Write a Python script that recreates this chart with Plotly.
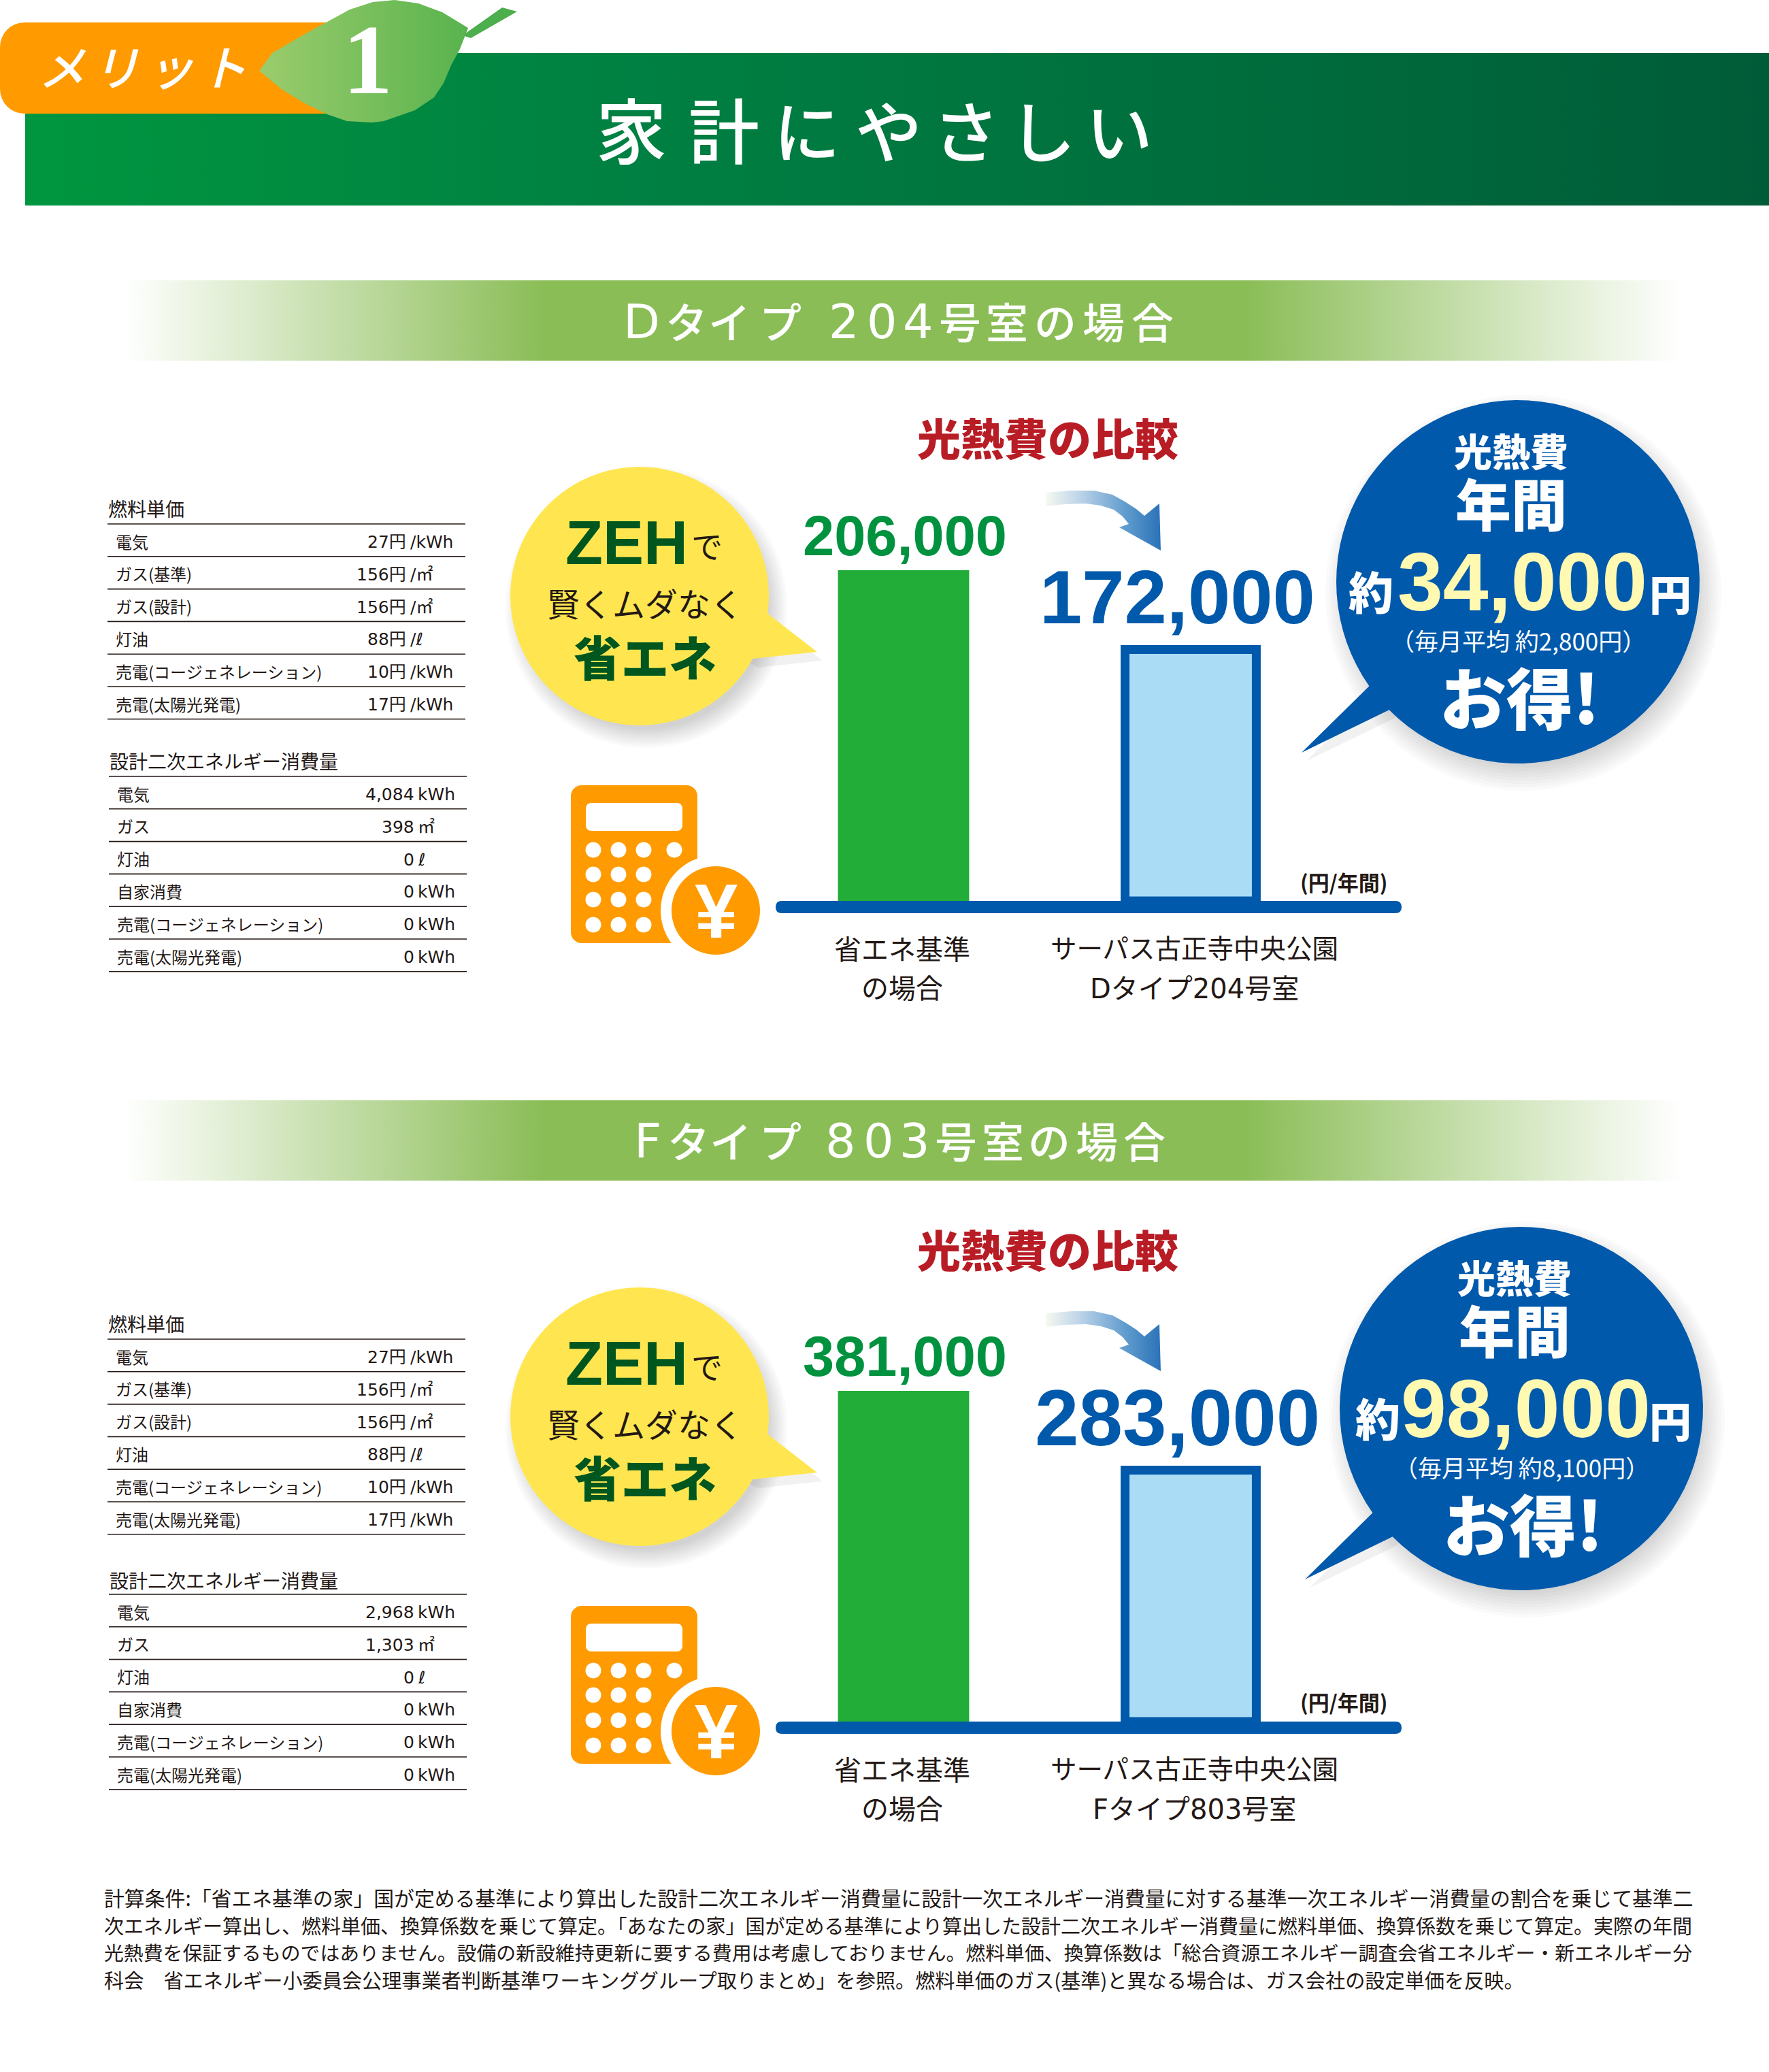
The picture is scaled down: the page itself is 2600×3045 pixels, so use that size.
import math
import plotly.graph_objects as go

# --- chart values ---
bar_categories = ["省エネ基準の場合", "サーパス古正寺中央公園"]
# printed amounts (yen per year)
cost_d = ["206,000", "172,000"]
cost_f = ["381,000", "283,000"]
# the bars in the picture are schematic, not to scale with the printed amounts:
# these are their drawn lengths, first bar = 100
bar_length_d = [100, 76]
bar_length_f = [100, 76]

saving_d = "34,000"
saving_f = "98,000"
monthly_d = "（毎月平均 約2,800円）"
monthly_f = "（毎月平均 約8,100円）"

fuel_labels = ["電気", "ガス(基準)", "ガス(設計)", "灯油", "売電(コージェネレーション)", "売電(太陽光発電)"]
fuel_prices = ["27円", "156円", "156円", "88円", "10円", "17円"]
fuel_units = ["/kWh", "/㎡", "/㎡", "/ℓ", "/kWh", "/kWh"]

energy_labels = ["電気", "ガス", "灯油", "自家消費", "売電(コージェネレーション)", "売電(太陽光発電)"]
energy_d = ["4,084", "398", "0", "0", "0", "0"]
energy_f = ["2,968", "1,303", "0", "0", "0", "0"]
energy_units = ["kWh", "㎡", "ℓ", "kWh", "kWh", "kWh"]

footnote = [
    "計算条件:「省エネ基準の家」国が定める基準により算出した設計二次エネルギー消費量に設計一次エネルギー消費量に対する基準一次エネルギー消費量の割合を乗じて基準二",
    "次エネルギー算出し、燃料単価、換算係数を乗じて算定。「あなたの家」国が定める基準により算出した設計二次エネルギー消費量に燃料単価、換算係数を乗じて算定。実際の年間",
    "光熱費を保証するものではありません。設備の新設維持更新に要する費用は考慮しておりません。燃料単価、換算係数は「総合資源エネルギー調査会省エネルギー・新エネルギー分",
    "科会　省エネルギー小委員会公理事業者判断基準ワーキンググループ取りまとめ」を参照。燃料単価のガス(基準)と異なる場合は、ガス会社の設定単価を反映。",
]

W, H = 2600, 3045
JP = "Noto Sans CJK JP"
LATIN_JP = "DejaVu Sans, Noto Sans CJK JP"
ARIAL = "Liberation Sans"
DARK = "#231815"
BLUE = "#0059ab"
ORANGE = "#ff9a00"
DEEP_GREEN = "#00561f"

fig = go.Figure()
annotations = []
shapes = []


def txt(x, y, text, size, color=DARK, family=JP, weight=400, anchor="center", style="normal"):
    # the CJK line box sits a little low, pull it back up
    if family == JP:
        y -= 0.07 * size
    annotations.append(dict(
        x=x, y=y, xref="x", yref="y", text=text, showarrow=False,
        xanchor=anchor, yanchor="middle", borderpad=0, borderwidth=0,
        font=dict(size=size, color=color, family=family, weight=weight, style=style),
    ))


def poly(points, color=None, gradient=None):
    xs = [p[0] for p in points] + [points[0][0]]
    ys = [p[1] for p in points] + [points[0][1]]
    kw = {"fillgradient": gradient} if gradient else {"fillcolor": color}
    fig.add_trace(go.Scatter(x=xs, y=ys, mode="none", fill="toself", hoverinfo="skip",
                             showlegend=False, xaxis="x", yaxis="y", **kw))


def ellipse(cx, cy, rx, ry=None, start=0.0, stop=360.0, n=72):
    ry = rx if ry is None else ry
    return [(cx + rx * math.cos(math.radians(start + (stop - start) * i / n)),
             cy + ry * math.sin(math.radians(start + (stop - start) * i / n))) for i in range(n + 1)]


def round_rect(x0, y0, x1, y1, r):
    pts = []
    pts += ellipse(x1 - r, y0 + r, r, start=-90, stop=0, n=8)
    pts += ellipse(x1 - r, y1 - r, r, start=0, stop=90, n=8)
    pts += ellipse(x0 + r, y1 - r, r, start=90, stop=180, n=8)
    pts += ellipse(x0 + r, y0 + r, r, start=180, stop=270, n=8)
    return pts


def bubble(cx, cy, r, base_a, tip, base_b, color, shadow):
    # circle with a tail, the tail's base points given as angles in degrees
    arc = ellipse(cx, cy, r, start=base_b, stop=base_a + 360 if base_a < base_b else base_a, n=90)
    for i in range(9):
        poly(ellipse(cx + shadow[0], cy + shadow[1], r * (1.09 - i * 0.018)), color="rgba(60,60,60,0.022)")
    tail = [tip, arc[0], (cx, cy), arc[-1]]
    poly([(x + shadow[0] * 0.8, y + shadow[1] * 0.8) for x, y in tail], color="rgba(60,60,60,0.07)")
    poly([tip] + arc, color=color)


# --- header ---
poly([(37, 78), (W, 78), (W, 302), (37, 302)],
     gradient=dict(type="horizontal", colorscale=[[0, "#00963f"], [0.35, "#008042"], [1, "#005c38"]]))
poly(round_rect(0, 33, 520, 167, 36), color=ORANGE)
poly([(680, 52), (738, 11), (760, 17), (692, 56)], color="#4cae4c")
poly([(381, 104), (400, 78), (448, 50), (514, 14), (548, 3), (580, 0), (615, 5), (650, 18), (688, 41),
      (676, 72), (663, 96), (652, 122), (638, 143), (610, 162), (564, 178), (547, 180), (510, 178),
      (481, 168), (448, 152), (415, 132)],
     gradient=dict(type="horizontal", colorscale=[[0, "#9ccc6c"], [1, "#58b34e"]]))
txt(540, 88, "1", 146, "white", "Liberation Serif", 700)
for ch, x in zip("メリット", [91, 170, 250, 328]):
    txt(x, 100, ch, 70, "white", JP, 500, style="italic")
for ch, x, s in zip("家計にやさしい", [928, 1064, 1186, 1306, 1420, 1532, 1645], [104, 104, 98, 98, 98, 98, 98]):
    txt(x, 195, ch, s, "white", JP, 500)


def section(y0, chars, xs, y_text):
    poly([(182, y0), (2470, y0), (2470, y0 + 118), (182, y0 + 118)],
         gradient=dict(type="horizontal", colorscale=[[0, "#ffffff"], [0.27, "#8abd56"], [0.72, "#8abd56"], [1, "#ffffff"]]))
    for ch, x in zip(chars, xs):
        latin = ord(ch) < 128
        txt(x, y_text + (0 if latin else 2), ch, 70 if latin else 62, "white", "DejaVu Sans" if latin else JP, 500)


section(412, "Dタイプ204号室の場合", [943, 1009, 1072, 1147, 1240, 1296, 1349, 1411, 1480, 1551, 1622, 1694], 473)
section(1617, "Fタイプ803号室の場合", [952, 1012, 1074, 1147, 1235, 1291, 1344, 1405, 1474, 1542, 1612, 1682], 1677)


# --- tables ---
def table(x_line, y_head, y_top, title, labels, col_a, col_b, x_a, x_b):
    txt(x_line + 1, y_head + 2, title, 28, anchor="left")
    tops = [y_top + 47.8 * i for i in range(len(labels) + 1)]
    for yy in tops:
        shapes.append(dict(type="line", xref="x", yref="y", x0=x_line, x1=x_line + 526, y0=yy, y1=yy,
                           line=dict(color=DARK, width=1.6), layer="above"))
    for i, label in enumerate(labels):
        yc = tops[i] + 25
        txt(x_line + 12, yc + 1.7, label, 24, anchor="left")
        txt(x_a, yc + 1.5, col_a[i], 25, family=LATIN_JP, anchor="right")
        txt(x_b, yc + 1.5, col_b[i], 25, family=LATIN_JP, anchor="left")


table(158, 747, 770, "燃料単価", fuel_labels, fuel_prices, fuel_units, 597, 603)
table(160, 1118, 1141, "設計二次エネルギー消費量", energy_labels, energy_d, energy_units, 609, 614)
table(158, 1945, 1968, "燃料単価", fuel_labels, fuel_prices, fuel_units, 597, 603)
table(160, 2322, 2343, "設計二次エネルギー消費量", energy_labels, energy_f, energy_units, 609, 614)


# --- chart panels ---
def panel(n, dy, b_dx, b_dy, red_dy, unit_dy, lengths, costs, cost_size, saving, monthly, room_label):
    xname, yname = f"x{n}", f"y{n}"
    base = 1324 + dy
    layout_x = dict(domain=[1140 / W, 2060 / W], range=[-0.4455, 1.7346], type="category",
                    categoryorder="array", categoryarray=bar_categories, visible=False,
                    anchor=yname, fixedrange=True)
    layout_y = dict(domain=[1 - base / H, 1 - (base - 524) / H], range=[0, 107.8], visible=False,
                    anchor=xname, fixedrange=True)
    fig.update_layout({f"xaxis{n}": layout_x, f"yaxis{n}": layout_y})
    fig.add_trace(go.Bar(x=bar_categories, y=lengths, width=0.457, xaxis=xname, yaxis=yname,
                         marker=dict(color=["#22ac38", "#abdcf6"],
                                     line=dict(color=["#22ac38", BLUE], width=[0, 13])),
                         hoverinfo="skip", showlegend=False))

    # amounts printed over the bars
    annotations.append(dict(x=bar_categories[0], y=lengths[0], xref=xname, yref=yname, text=costs[0],
                            showarrow=False, xanchor="center", yanchor="middle", xshift=2, yshift=50,
                            font=dict(size=83, color="#00923f", family=ARIAL, weight=700)))
    annotations.append(dict(x=bar_categories[1], y=lengths[1], xref=xname, yref=yname, text=costs[1],
                            showarrow=False, xanchor="center", yanchor="middle", xshift=-20, yshift=77,
                            font=dict(size=cost_size, color=BLUE, family=ARIAL, weight=700)))

    # category captions
    txt(1326, 1396 + dy, "省エネ基準", 40)
    txt(1326, 1453 + dy, "の場合", 40)
    txt(1755, 1394 + dy, bar_categories[1], 38.5)
    txt(1755, 1453 + dy, room_label, 40, family=LATIN_JP)
    txt(1975, 1298 + unit_dy, "(円/年間)", 31, weight=700)
    txt(1540, 645 + red_dy, "光熱費の比較", 64, "#b81c25", JP, 900)

    # baseline
    x0, x1, y0, y1, r = 1140, 2060, base, base + 18, 9
    shapes.append(dict(type="path", xref="x", yref="y", layer="above", line=dict(width=0), fillcolor=BLUE,
                       path=f"M{x0 + r},{y0} L{x1 - r},{y0} Q{x1},{y0} {x1},{y0 + r} Q{x1},{y1} {x1 - r},{y1} "
                            f"L{x0 + r},{y1} Q{x0},{y1} {x0},{y0 + r} Q{x0},{y0} {x0 + r},{y0} Z"))

    # yellow bubble
    a0 = math.degrees(math.atan2(902 - 876, 1130 - 940))
    a1 = math.degrees(math.atan2(968 - 876, 1106 - 940))
    bubble(940, 876 + dy, 190, a0, (1201, 958 + dy), a1, "#ffe650", (10, 16))
    txt(921, 798 + dy, "ZEH", 90, DEEP_GREEN, ARIAL, 700)
    txt(1039, 803 + dy, "で", 46)
    txt(948, 888 + dy, "賢くムダなく", 48)
    txt(948, 968 + dy, "省エネ", 70, DEEP_GREEN, JP, 900)

    # calculator
    poly(round_rect(839, 1154 + dy, 1025, 1386 + dy, 16), color=ORANGE)
    poly(round_rect(861, 1180 + dy, 1003, 1221 + dy, 8), color="white")
    for row, yb in enumerate([1249, 1285, 1322, 1359]):
        for col, xb in enumerate([872, 909, 946, 991]):
            if col == 3 and row > 0:
                continue
            poly(ellipse(xb, yb + dy, 11.5, n=24), color="white")
    poly(ellipse(1052, 1338 + dy, 81), color="white")
    poly(ellipse(1052, 1338 + dy, 65), color=ORANGE)
    txt(1052, 1338 + dy, "¥", 114, "white", ARIAL, 700)

    # curved arrow
    arrow = [(1537, 724), (1575, 721), (1608, 721), (1635, 727), (1653, 737), (1670, 748), (1682, 758), (1704, 740),
             (1706, 809), (1645, 775), (1659, 770), (1650, 759), (1637, 749), (1618, 743), (1596, 740), (1565, 741), (1537, 744)]
    poly([(x, y + dy) for x, y in arrow],
         gradient=dict(type="horizontal", colorscale=[[0, "#f6f9f0"], [0.3, "#bcd3e8"], [0.7, "#5f9bcd"], [1, "#2a72b8"]]))

    # blue bubble
    cx, cy = 2231 + b_dx, 855 + b_dy
    ang0 = math.degrees(math.atan2(1010 - 855, 2010 - 2231))
    ang1 = math.degrees(math.atan2(1044 - 855, 2041 - 2231))
    bubble(cx, cy, 267, ang1, (1913 + b_dx, 1106 + b_dy), ang0, BLUE, (8, 16))

    txt(2221 + b_dx, 664 + b_dy, "光熱費", 56, "white", JP, 900)
    txt(2221 + b_dx, 743 + b_dy, "年間", 82, "white", JP, 900)
    txt(2015 + b_dx * 2, 872 + b_dy, "約", 66, "white", JP, 900)
    txt(2237 + b_dx, 855 + b_dy, saving, 120, "#fff9b1", ARIAL, 700)
    txt(2455, 875 + b_dy, "円", 62, "white", JP, 900)
    txt(2231 + b_dx, 943 + b_dy, monthly, 35, "white", JP, 400)
    txt(2233 + b_dx, 1028 + b_dy, "お得!", 98, "white", JP, 900)


panel(2, 0, 0, 0, 0, 0, bar_length_d, cost_d, 112, saving_d, monthly_d, "Dタイプ204号室")
panel(3, 1206, 5, 1215, 1193, 1205, bar_length_f, cost_f, 116, saving_f, monthly_f, "Fタイプ803号室")

# --- footnote ---
for line, yy, s in zip(footnote, [2788, 2829, 2869, 2909], [29.85, 29.0, 28.87, 29.16]):
    txt(153, yy + 2, line, s, anchor="left")

fig.update_layout(
    width=W, height=H, margin=dict(l=0, r=0, t=0, b=0),
    paper_bgcolor="white", plot_bgcolor="rgba(0,0,0,0)",
    xaxis=dict(domain=[0, 1], range=[0, W], visible=False, fixedrange=True),
    yaxis=dict(domain=[0, 1], range=[H, 0], visible=False, fixedrange=True),
    annotations=annotations, shapes=shapes, hovermode=False, showlegend=False,
    font=dict(family=JP),
)

fig.write_html("out.html", config={"displayModeBar": False},
               post_script="document.body.style.margin='0';")
